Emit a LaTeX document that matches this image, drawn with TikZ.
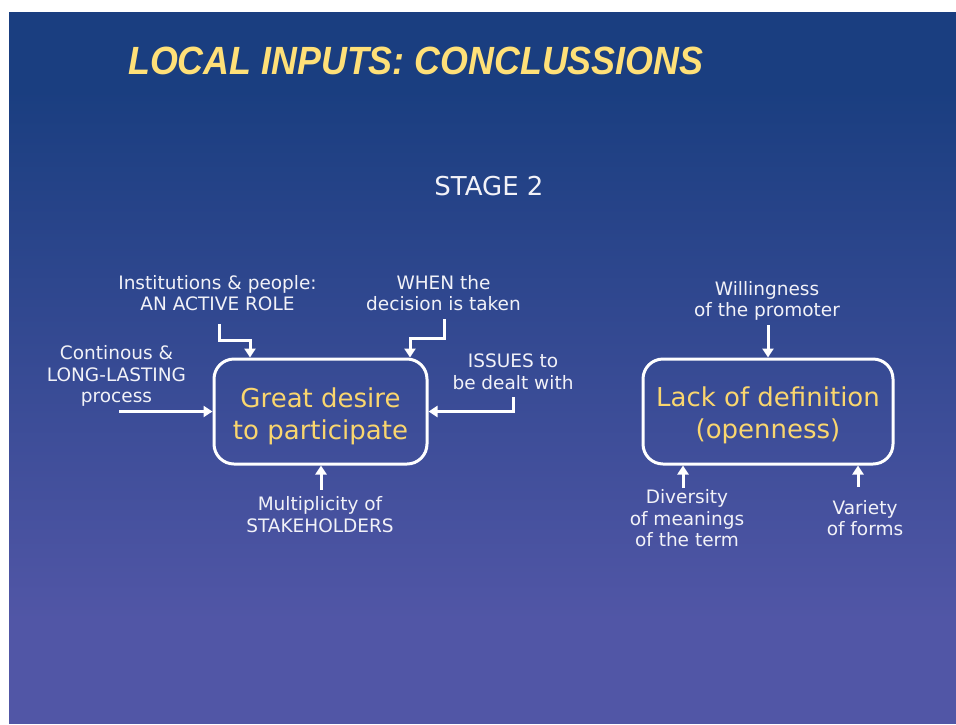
\documentclass[tikz,border=0pt]{standalone}
\usepackage{fontspec}
\usepackage{graphicx}
\setmainfont{DejaVu Sans}
\newfontfamily\titlefont{Liberation Sans}
\usetikzlibrary{arrows.meta}
\definecolor{bgtop}{RGB}{26,62,128}
\definecolor{bgbot}{RGB}{81,86,166}
\definecolor{ttl}{RGB}{255,224,120}
\definecolor{ylw}{RGB}{250,214,110}
\definecolor{txt}{RGB}{242,242,248}
\begin{document}
\begin{tikzpicture}[x=1pt,y=-1pt,
  lbl/.style={text=txt, font=\fontsize{18.5}{21.5}\selectfont, align=center, inner sep=0pt, anchor=base},
  bigbox/.style={draw=white, line width=3pt, rounded corners=20pt, minimum width=213pt, minimum height=105pt, inner sep=0pt},
  boxtext/.style={text=ylw, font=\fontsize{26}{32}\selectfont, align=center, inner sep=0pt, anchor=base},
  arr/.style={draw=white, line width=3pt, -{Triangle[width=11pt,length=9pt]}}]
\useasboundingbox (0,0) rectangle (956,724);
\fill[white] (0,0) rectangle (956,724);
\fill[bgtop] (9,12) rectangle (956,90);
\shade[top color=bgtop, bottom color=bgbot] (9,89.5) rectangle (956,620.5);
\fill[bgbot] (9,620) rectangle (956,724);

\node[anchor=base west, text=ttl, inner sep=0pt] (title) at (128,74)
  {\resizebox{575pt}{27.5pt}{\titlefont\bfseries\itshape LOCAL INPUTS: CONCLUSSIONS}};
\node[text=txt, font=\fontsize{26}{30}\selectfont, inner sep=0pt] (stage) at (489,186.5) {STAGE 2};

\node[bigbox] (box1) at (320.5,411.5) {};
\node[boxtext] (t1) at (320.5,439) {Great desire\\to participate};
\node[bigbox, minimum width=250pt] (box2) at (768,411.5) {};
\node[boxtext] (t2) at (768,438) {Lack of definition\\(openness)};

\node[lbl] (inst) at (217.5,310.7) {Institutions \& people:\\AN ACTIVE ROLE};
\node[lbl] (when) at (443.5,310.7) {WHEN the\\decision is taken};
\node[lbl] (cont) at (116.5,402.7) {Continous \&\\LONG-LASTING\\process};
\node[lbl] (issues) at (513,389.3) {ISSUES to\\be dealt with};
\node[lbl] (multi) at (320,532.3) {Multiplicity of\\STAKEHOLDERS};
\node[lbl] (will) at (767,316.7) {Willingness\\of the promoter};
\node[lbl] (div) at (687,546.7) {Diversity\\of meanings\\of the term};
\node[lbl] (var) at (865,535.7) {Variety\\of forms};

\coordinate (c0) at (119,411.5);
\draw[arr] (c0) -- (c0 -| box1.west);
\coordinate (i0) at (219,324);
\coordinate (i1) at (250,340);
\draw[arr] (i0) |- (i1) -- (i1 |- box1.north);
\coordinate (w0) at (444,319);
\coordinate (w1) at (410,338.5);
\draw[arr] (w0) |- (w1) -- (w1 |- box1.north);
\coordinate (s0) at (513,397);
\draw[arr] (s0) |- (box1.east);
\coordinate (m0) at (321,490);
\draw[arr] (m0) -- (m0 |- box1.south);

\coordinate (p0) at (768,325);
\draw[arr] (p0) -- (p0 |- box2.north);
\coordinate (d0) at (683,488);
\draw[arr] (d0) -- (d0 |- box2.south);
\coordinate (v0) at (858,487);
\draw[arr] (v0) -- (v0 |- box2.south);
\end{tikzpicture}
\end{document}
